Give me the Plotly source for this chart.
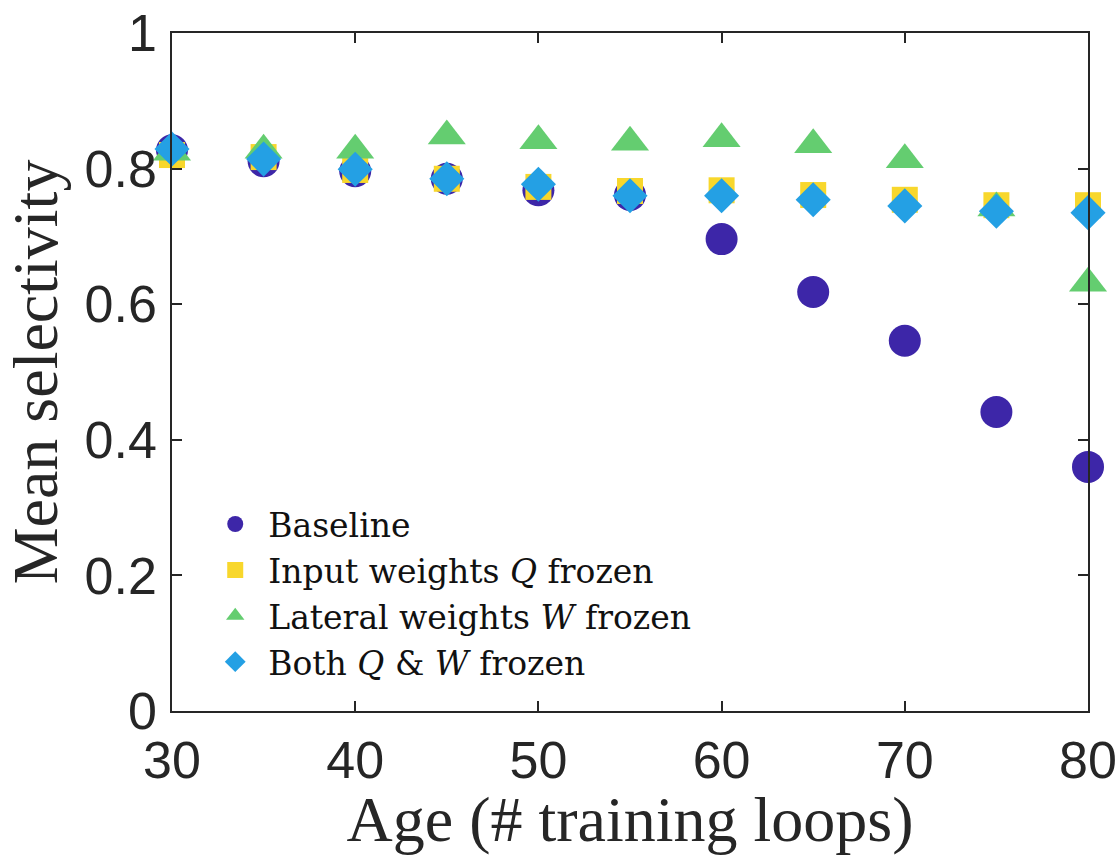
import plotly.graph_objects as go

ages = [30, 35, 40, 45, 50, 55, 60, 65, 70, 75, 80]
baseline = [0.827, 0.811, 0.796, 0.785, 0.768, 0.761, 0.696, 0.618, 0.546, 0.441, 0.360]
input_q_frozen = [0.820, 0.817, 0.798, 0.785, 0.773, 0.767, 0.768, 0.761, 0.754, 0.746, 0.746]
lateral_w_frozen = [0.824, 0.827, 0.827, 0.848, 0.841, 0.839, 0.844, 0.835, 0.813, 0.742, 0.631]
both_frozen = [0.829, 0.814, 0.799, 0.785, 0.777, 0.760, 0.760, 0.754, 0.745, 0.737, 0.735]

x_ticks = [30, 40, 50, 60, 70, 80]
y_ticks = [0, 0.2, 0.4, 0.6, 0.8, 1]
y_tick_labels = ["0", "0.2", "0.4", "0.6", "0.8", "1"]

series = [
    ("Baseline", baseline, "circle", 32, "#3D26A8"),
    ("Input weights <i>Q</i> frozen", input_q_frozen, "square", 26, "#F8D72C"),
    ("Lateral weights <i>W</i> frozen", lateral_w_frozen, "triangle-up", 33, "#64CD70"),
    ("Both <i>Q</i> &amp; <i>W</i> frozen", both_frozen, "diamond", 27, "#24A0E4"),
]

fig = go.Figure()
for name, vals, sym, size, color in series:
    fig.add_trace(go.Scatter(
        x=ages, y=vals, mode="markers", name=name,
        marker=dict(symbol=sym, size=size, color=color, line=dict(width=0)),
        cliponaxis=False,
    ))

axis_common = dict(
    showline=True, linecolor="#262626", linewidth=1.5, mirror="ticks",
    ticks="inside", ticklen=10, tickwidth=1.5, tickcolor="#262626",
    showgrid=False, zeroline=False, automargin=False,
    tickfont=dict(family="Liberation Sans, Arial, sans-serif", size=52, color="#262626"),
)

title_font = dict(family="Liberation Serif, Times New Roman, serif", size=64, color="#262626")

fig.update_layout(
    width=1120, height=855,
    margin=dict(l=172, r=32, t=33, b=144),
    paper_bgcolor="white", plot_bgcolor="white",
    showlegend=True,
    legend=dict(
        x=0.033, y=0.317, xanchor="left", yanchor="top",
        font=dict(family="DejaVu Serif, Liberation Serif, serif", size=33, color="#111111"),
        bgcolor="rgba(0,0,0,0)", borderwidth=0, itemwidth=56,
        tracegroupgap=0,
    ),
    xaxis=dict(
        range=[30, 80], tickvals=x_ticks, ticktext=[str(t) for t in x_ticks],
        title=dict(text="Age (# training loops)", font=title_font, standoff=3),
        ticklabelstandoff=3,
        **axis_common,
    ),
    yaxis=dict(
        range=[0, 1], tickvals=y_ticks, ticktext=y_tick_labels,
        title=dict(text="Mean selectivity", font=title_font, standoff=8),
        ticklabelstandoff=3,
        **axis_common,
    ),
)

fig.write_html("out.html")
